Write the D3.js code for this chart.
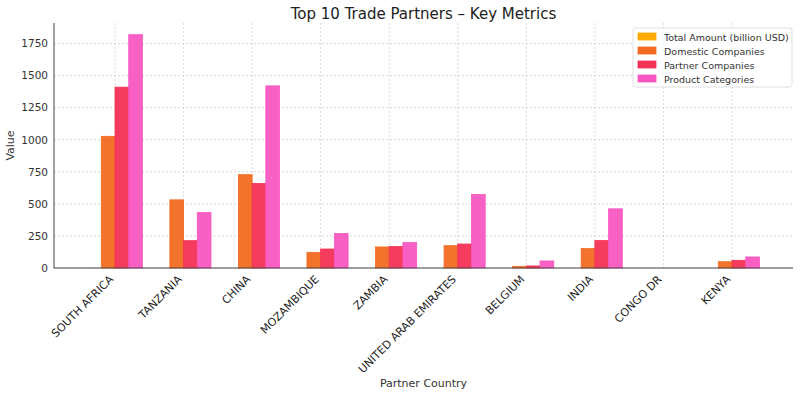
<!DOCTYPE html>
<html><head><meta charset="utf-8">
<script src="https://cdn.jsdelivr.net/npm/d3@7"></script>
<style>body{margin:0;background:#fff;} svg{display:block;font-family:"DejaVu Sans",sans-serif;}</style>
</head><body>
<script>
const categories = ["SOUTH AFRICA","TANZANIA","CHINA","MOZAMBIQUE","ZAMBIA","UNITED ARAB EMIRATES","BELGIUM","INDIA","CONGO DR","KENYA"];
const seriesNames = ["Total Amount (billion USD)","Domestic Companies","Partner Companies","Product Categories"];
const totalAmount = [0.6, 0.3, 0.5, 0.2, 0.2, 0.3, 0.1, 0.2, 0.2, 0.1];
const domestic = [1026, 531, 727, 122, 164, 174, 13, 151, 0, 49];
const partner = [1409, 213, 659, 148, 167, 187, 16, 214, 0, 60];
const products = [1818, 432, 1419, 268, 198, 573, 55, 461, 0, 86];
const colors = ["#FFAA00","#F26B21","#F43256","#F857C1"];
const yTicks = [0,250,500,750,1000,1250,1500,1750];

const series = [totalAmount, domestic, partner, products];
const W = 800, H = 397;
const m = {l:54, r:7, t:23, b:129};
const svg = d3.select("body").append("svg").attr("width",W).attr("height",H);

const n = categories.length;
const bw = 0.2;
const x = d3.scaleLinear().domain([-0.4 - 0.49, (n-1) + 0.4 + 0.49]).range([m.l, W - m.r]);
const ymax = d3.max(series.flat()) * 1.05;
const y = d3.scaleLinear().domain([0, ymax]).range([H - m.b, m.t]);

// grid
const g = svg.append("g");
g.selectAll(".gy").data(yTicks).join("line")
  .attr("x1", m.l).attr("x2", W - m.r)
  .attr("y1", d => y(d)).attr("y2", d => y(d))
  .attr("stroke", "#d0d0d0").attr("stroke-width", 0.8).attr("stroke-dasharray", "2,2");
g.selectAll(".gx").data(d3.range(n)).join("line")
  .attr("x1", d => x(d)).attr("x2", d => x(d))
  .attr("y1", m.t).attr("y2", H - m.b)
  .attr("stroke", "#d0d0d0").attr("stroke-width", 0.8).attr("stroke-dasharray", "2,2");

// bars
series.forEach((vals, si) => {
  svg.append("g").selectAll("rect").data(vals).join("rect")
    .attr("x", (d, i) => x(i + (si - 2) * bw))
    .attr("width", x(bw) - x(0))
    .attr("y", d => y(d))
    .attr("height", d => y(0) - y(d))
    .attr("fill", colors[si]).attr("fill-opacity", 0.95)
    .attr("stroke", colors[si]).attr("stroke-width", si === 0 ? 0 : 0.8);
});

// axes
const yAxis = d3.axisLeft(y).tickValues(yTicks).tickSize(0).tickPadding(6).tickFormat(d3.format("d"));
const ya = svg.append("g").attr("transform", `translate(${m.l},0)`).call(yAxis);
ya.select(".domain").attr("d", `M0,${m.t}V${H - m.b}`).attr("stroke", "#444");
ya.selectAll("text").attr("font-size", 10.5).attr("fill", "#333").attr("font-family", "DejaVu Sans");

const xAxis = d3.axisBottom(x).tickValues(d3.range(n)).tickSize(0).tickFormat(i => categories[i]);
const xa = svg.append("g").attr("transform", `translate(0,${H - m.b})`).call(xAxis);
xa.select(".domain").attr("d", `M${m.l},0H${W - m.r}`).attr("stroke", "#444");
xa.selectAll("text").attr("font-size", 11).attr("fill", "#222").attr("font-family", "DejaVu Sans")
  .attr("text-anchor", "end").attr("dy", null).attr("y", 0)
  .attr("transform", "translate(-1.5,12) rotate(-45)");

// title & labels
svg.append("text").attr("x", (m.l + W - m.r) / 2).attr("y", 19).attr("text-anchor", "middle")
  .attr("font-size", 15).attr("fill", "#222").text("Top 10 Trade Partners – Key Metrics");
svg.append("text").attr("x", (m.l + W - m.r) / 2).attr("y", 387).attr("text-anchor", "middle")
  .attr("font-size", 11).attr("fill", "#333").text("Partner Country");
svg.append("text").attr("transform", `translate(14,${(m.t + H - m.b) / 2}) rotate(-90)`)
  .attr("text-anchor", "middle").attr("font-size", 11).attr("fill", "#333").text("Value");

// legend
const lg = svg.append("g").attr("transform", "translate(633,28)");
lg.append("rect").attr("width", 159).attr("height", 59).attr("rx", 2.5)
  .attr("fill", "#fff").attr("fill-opacity", 0.85).attr("stroke", "#d8d8d8").attr("stroke-width", 0.8);
seriesNames.forEach((s, i) => {
  const row = lg.append("g").attr("transform", `translate(5,${9 + i * 14})`);
  row.append("rect").attr("x", 0).attr("y", -4).attr("width", 18).attr("height", 7)
    .attr("fill", colors[i]).attr("stroke", colors[i]).attr("stroke-width", 0.8);
  row.append("text").attr("x", 26).attr("y", 3.5).attr("font-size", 9.5).attr("fill", "#333").text(s);
});
</script>
</body></html>
